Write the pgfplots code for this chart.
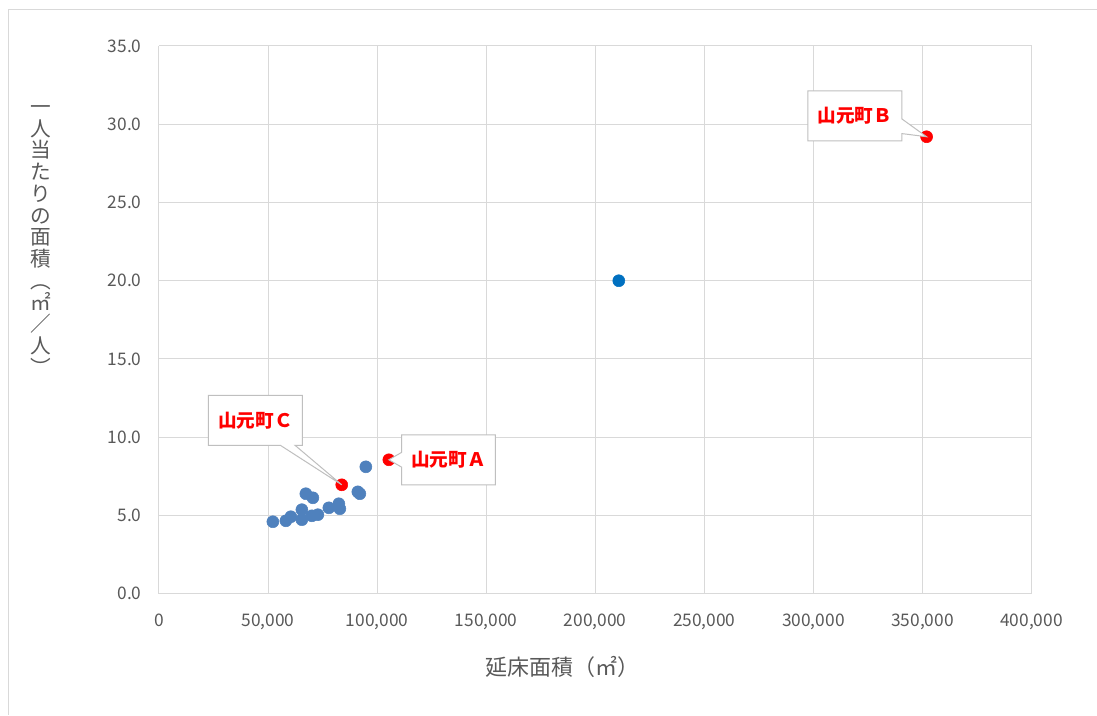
\documentclass[border=0pt]{standalone}
\usepackage{fontspec}
\setmainfont{Noto Sans CJK JP}
\usepackage{pgfplots}
\pgfplotsset{compat=1.18}
\usetikzlibrary{shapes.callouts}
\definecolor{gridgray}{HTML}{D9D9D9}
\definecolor{txtgray}{HTML}{595959}
\definecolor{ptblue}{HTML}{4F81BD}
\definecolor{dkblue}{HTML}{0070C0}
\definecolor{boxgray}{HTML}{BFBFBF}
\begin{document}
\begin{tikzpicture}
\begin{axis}[name=ax, scale only axis, width=654.75pt, height=411pt,
  xmin=0, xmax=400000, ymin=0, ymax=35,
  xtick={0,50000,...,400000}, ytick={0,5,...,35},
  grid=major, major grid style={gridgray, line width=0.75pt},
  axis line style={draw=none}, tick style={draw=none},
  scaled x ticks=false,
  /pgf/number format/assume math mode=true,
  x tick label style={/pgf/number format/fixed, /pgf/number format/1000 sep={,}, yshift=-11.5pt},
  y tick label style={/pgf/number format/fixed, /pgf/number format/fixed zerofill, /pgf/number format/precision=1, xshift=-9.5pt},
  ticklabel style={font=\fontsize{13}{15}\selectfont, text=txtgray},
  clip=false]
\addplot[only marks, mark=*, mark size=4.5pt, mark options={fill=ptblue, draw=ptblue}] coordinates {
  (52230,4.60) (58190,4.66) (60480,4.92) (65520,5.37) (65520,4.73)
  (67350,6.39) (70560,6.13) (70100,4.98) (72850,5.05) (77890,5.49)
  (82470,5.75) (82930,5.43) (91180,6.51) (92100,6.39) (94850,8.11)
};
\addplot[only marks, mark=*, mark size=4.5pt, mark options={fill=dkblue, draw=dkblue}] coordinates {
  (210800,20.0)
};
\addplot[only marks, mark=*, mark size=4.5pt, mark options={fill=red, draw=red}] coordinates {
  (105400,8.56) (351900,29.2) (83800,6.96)
};
\coordinate (pA) at (axis cs:105400,8.56);
\coordinate (pB) at (axis cs:351900,29.2);
\coordinate (pC) at (axis cs:83800,6.96);
\coordinate (bA) at (axis cs:132740,8.56);
\coordinate (bB) at (axis cs:319040,30.53);
\coordinate (bC) at (axis cs:44215,11.08);
\coordinate (xl) at (rel axis cs:0.3745,0);
\coordinate (yl) at (rel axis cs:0,0.645);
\end{axis}
\tikzset{co/.style={rectangle callout, draw=boxgray, line width=0.75pt, fill=white,
  minimum width=70.5pt, minimum height=37.5pt, text=red,
  font=\fontsize{14}{16}\selectfont\bfseries, callout pointer width=11pt}}
\node[co, callout absolute pointer={(pC)}] at (bC) {山元町Ｃ};
\node[co, callout absolute pointer={(pA)}] at (bA) {山元町Ａ};
\node[co, callout absolute pointer={(pB)}] at (bB) {山元町Ｂ};
\node[text=txtgray, font=\fontsize{16.5}{18}\selectfont, anchor=west, inner sep=0pt] at ([yshift=-54.75pt]xl) {延床面積（㎡）};
\node[text=txtgray, font=\fontsize{15.5}{16.3}\selectfont, align=center, anchor=center] at ([xshift=-88.5pt]yl)
  {一\\人\\当\\た\\り\\の\\面\\積\\︵\\㎡\\／\\人\\︶};
\draw[gridgray, line width=0.75pt] ([shift={(-112.5pt,-90.75pt)}]ax.south west) -- ([shift={(-112.5pt,27pt)}]ax.north west) -- ([shift={(48.75pt,27pt)}]ax.north east);
\path[use as bounding box] ([shift={(-119.25pt,-90.75pt)}]ax.south west) rectangle ([shift={(48.75pt,34.5pt)}]ax.north east);
\end{tikzpicture}
\end{document}
